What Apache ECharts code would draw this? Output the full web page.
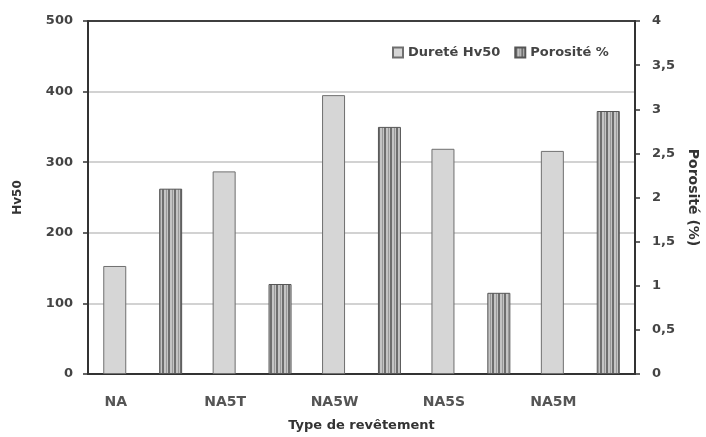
<!DOCTYPE html>
<html>
<head>
<meta charset="utf-8">
<script src="https://cdn.jsdelivr.net/npm/echarts@6/dist/echarts.min.js"></script>
<style>html,body{margin:0;padding:0;background:#fff}#c{width:706px;height:437px}</style>
</head>
<body>
<div id="c"></div>
<script>
var categories = ['NA', 'NA5T', 'NA5W', 'NA5S', 'NA5M'];
var hardness = [153, 287, 395, 319, 316];
var porosity = [2.1, 1.02, 2.8, 0.92, 2.98];
var leftTicks = [0, 100, 200, 300, 400, 500];
var rightTicks = [0, 0.5, 1, 1.5, 2, 2.5, 3, 3.5, 4];

function stripePattern() {
  var cv = document.createElement('canvas');
  cv.width = 6; cv.height = 4;
  var ctx = cv.getContext('2d');
  ctx.fillStyle = '#c4c4c4';
  ctx.fillRect(0, 0, 6, 4);
  ctx.fillStyle = '#6e6e6e';
  ctx.fillRect(0, 0, 2, 4);
  ctx.fillStyle = '#9a9a9a';
  ctx.fillRect(4, 0, 1, 4);
  return { image: cv, repeat: 'repeat' };
}

var font = '"DejaVu Sans", "Liberation Sans", sans-serif';
var chart = echarts.init(document.getElementById('c'), null, { renderer: 'canvas' });
chart.setOption({
  animation: false,
  backgroundColor: '#fff',
  textStyle: { fontFamily: font },
  grid: { left: 88, right: 71, top: 21, bottom: 63, show: true, borderColor: '#333', borderWidth: 1.5, backgroundColor: 'transparent', outerBoundsMode: 'none', containLabel: false },
  legend: {
    data: ['Dureté Hv50', 'Porosité %'],
    left: 387, top: 41,
    itemWidth: 10, itemHeight: 10, itemGap: 14,
    textStyle: { fontFamily: font, fontSize: 13, fontWeight: 'bold', color: '#444' },
    icon: 'rect'
  },
  xAxis: {
    type: 'category',
    data: categories,
    name: 'Type de revêtement',
    nameLocation: 'middle',
    nameGap: 45,
    nameTextStyle: { fontFamily: font, fontSize: 13, fontWeight: 'bold', color: '#333' },
    axisLine: { lineStyle: { color: '#333', width: 2 } },
    axisTick: { show: false },
    axisLabel: { fontFamily: font, fontSize: 14, fontWeight: 'bold', color: '#555', margin: 21, padding: [0, 54, 0, 0] }
  },
  yAxis: [
    {
      type: 'value', min: 0, max: 500, interval: 100,
      name: 'Hv50', nameLocation: 'middle', nameGap: 64, nameRotate: 90,
      nameTextStyle: { fontFamily: font, fontSize: 12, fontWeight: 'bold', color: '#333' },
      axisLine: { show: true, lineStyle: { color: '#333', width: 2 } },
      axisTick: { show: true, length: 5, lineStyle: { color: '#333', width: 1.5 } },
      axisLabel: { fontFamily: font, fontSize: 13, fontWeight: 'bold', color: '#444', margin: 15 },
      splitLine: { show: true, lineStyle: { color: ['#333', '#c3c3c3', '#c3c3c3', '#c3c3c3', '#c3c3c3', '#333'], width: 1.5 } }
    },
    {
      type: 'value', min: 0, max: 4, interval: 0.5,
      name: 'Porosité (%)', nameLocation: 'middle', nameGap: 51, nameRotate: -90,
      nameTextStyle: { fontFamily: font, fontSize: 14, fontWeight: 'bold', color: '#333' },
      axisLine: { show: true, lineStyle: { color: '#333', width: 2 } },
      axisTick: { show: true, length: 5, lineStyle: { color: '#333', width: 1.5 } },
      axisLabel: { fontFamily: font, fontSize: 13, fontWeight: 'bold', color: '#444', margin: 17,
        formatter: function (v) { return String(v).replace('.', ','); } },
      splitLine: { show: false }
    }
  ],
  series: [
    {
      name: 'Dureté Hv50', type: 'bar', yAxisIndex: 0, data: hardness,
      barWidth: 23, barGap: '143%',
      itemStyle: { color: '#d6d6d6', borderColor: '#6f6f6f', borderWidth: 1 }
    },
    {
      name: 'Porosité %', type: 'bar', yAxisIndex: 1, data: porosity,
      barWidth: 23, barGap: '143%',
      itemStyle: { color: stripePattern(), borderColor: '#555', borderWidth: 1 }
    }
  ]
});
</script>
</body>
</html>
